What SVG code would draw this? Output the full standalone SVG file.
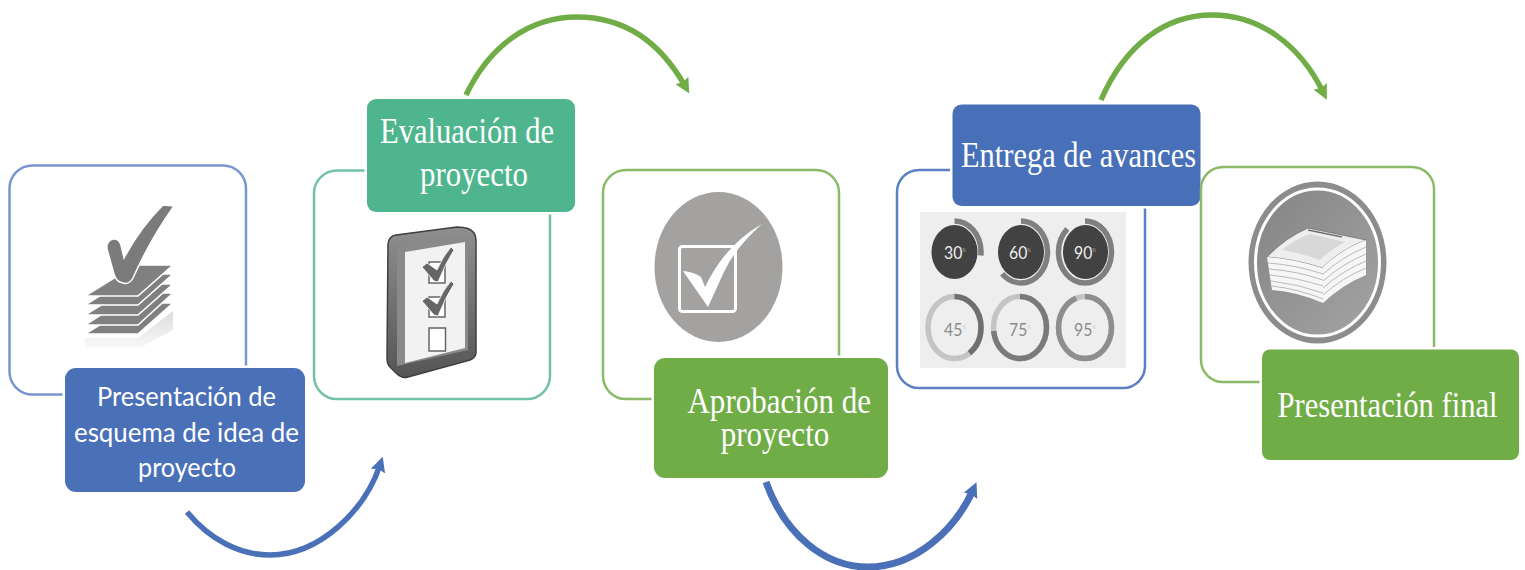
<svg xmlns="http://www.w3.org/2000/svg" width="1525" height="570" viewBox="0 0 1525 570">
<style>
.frame{fill:#fff;stroke-width:2.5}
.label{stroke:#fff;stroke-width:5;paint-order:stroke}
.serif{font-family:"Liberation Serif","Times New Roman",serif;fill:#fff;text-anchor:middle;font-size:36px}
.sans{font-family:Lato,"Open Sans",sans-serif;fill:#fff;text-anchor:middle;font-size:27.5px}
.conn{fill:none;stroke-width:5.5}
.sheet{fill:#808080;stroke:#fff;stroke-width:1.6}
.pct{font-family:Lato,"Open Sans",sans-serif;font-size:17px;text-anchor:middle}
.sup{font-size:5px}
</style>
<defs>
<marker id="headBlue" markerUnits="userSpaceOnUse" viewBox="0 0 14 14" refX="6" refY="7" markerWidth="15" markerHeight="15" orient="auto"><polygon points="0,0 14,7 0,14 2,7" fill="#4A70B8"/></marker>
<marker id="headGreen" markerUnits="userSpaceOnUse" viewBox="0 0 14 14" refX="6" refY="7" markerWidth="15" markerHeight="15" orient="auto"><polygon points="0,0 14,7 0,14 2,7" fill="#70AD47"/></marker>
<linearGradient id="dev" x1="0" y1="0" x2="0" y2="1"><stop offset="0" stop-color="#8f8f8f"/><stop offset="1" stop-color="#555"/></linearGradient>
<linearGradient id="disc" x1="0" y1="0" x2="1" y2="1"><stop offset="0" stop-color="#848484"/><stop offset="1" stop-color="#a4a4a4"/></linearGradient>
<linearGradient id="fade" x1="0" y1="0" x2="0" y2="1"><stop offset="0" stop-color="#dcdcdc"/><stop offset="1" stop-color="#f8f8f8"/></linearGradient>
<path id="ring" d="M0,-31 A26.5,31 0 1 1 0,31 A26.5,31 0 1 1 0,-31" fill="none" stroke-width="5.5" pathLength="100"/>
<path id="tick" d="M422,267 L427,263 L437,270 Q443,256 451,247 L454,250 Q445,264 438,282 L434,281 Z" fill="#666" stroke="#fff" stroke-width="0.8"/>
</defs>

<g id="node1">
<rect class="frame" x="9.500" y="165.500" width="236.500" height="229" rx="23" stroke="#7A96CE"/>
<polygon points="85,338 138,338 173,311 173,330 142,347 85,347" fill="url(#fade)"/>
<polygon class="sheet" points="85,334 138,334 173,303 135,303"/>
<polygon class="sheet" points="85,325 138,325 173,293 135,293"/>
<polygon class="sheet" points="85,315 138,315 173,284 135,284"/>
<polygon class="sheet" points="85,305 138,305 173,274 135,274"/>
<polygon class="sheet" points="85,296 138,296 173,265 135,265"/>
<path d="M163,205 L174,206 Q150,240 133,278 Q129,285 123,283 Q116,282 114,274 L107,249 Q106,241 113,239 Q119,238 121,245 L124,258 Q140,228 163,205 Z" fill="#7b7b7b" stroke="#fff" stroke-width="1.500"/>
<rect class="label" x="65" y="368" width="240" height="124" rx="11" fill="#4A70B8"/>
<text class="sans" x="186.500" y="406" textLength="179" lengthAdjust="spacingAndGlyphs">Presentación de</text>
<text class="sans" x="186.500" y="442" textLength="225" lengthAdjust="spacingAndGlyphs">esquema de idea de</text>
<text class="sans" x="187" y="477" textLength="98" lengthAdjust="spacingAndGlyphs">proyecto</text>
</g>

<g id="node2">
<rect class="frame" x="314" y="170.500" width="236" height="228.500" rx="23" stroke="#72C3A5"/>
<path d="M388,244 Q389,236 396,235 L457,227 Q470,227 474,233 Q476,236 476,242 L476,352 Q476,358 470,360 L408,377 Q402,379 396,373 L390,367 Q387,364 387,358 Z" fill="url(#dev)" stroke="#3f3f3f" stroke-width="1.500"/>
<polygon points="397,248 468,238 468,350 397,366" fill="#8a8a8a"/>
<polygon points="405,252 465,242 465,348 405,363" fill="#f2f2f2"/>
<rect x="429" y="262" width="16" height="21" fill="#fff" stroke="#666" stroke-width="1.500"/>
<rect x="429" y="297" width="16" height="20" fill="#fff" stroke="#666" stroke-width="1.500"/>
<rect x="429" y="328" width="16.500" height="23" fill="#fff" stroke="#666" stroke-width="1.500"/>
<use href="#tick"/>
<use href="#tick" y="34"/>
<rect class="label" x="367" y="99" width="208" height="113" rx="9" fill="#4EB58E"/>
<text class="serif" x="467" y="143" textLength="174" lengthAdjust="spacingAndGlyphs">Evaluación de</text>
<text class="serif" x="474" y="186" textLength="108" lengthAdjust="spacingAndGlyphs">proyecto</text>
</g>

<g id="node3">
<rect class="frame" x="603" y="170" width="236" height="229" rx="23" stroke="#8BBB69"/>
<ellipse cx="718.500" cy="267" rx="64" ry="75" fill="#A3A2A1"/>
<rect x="679.500" y="246.500" width="56" height="65" rx="3" fill="none" stroke="#fff" stroke-width="3"/>
<path d="M683,271 Q694,272 701,277 L705,287 Q725,245 762,224 Q735,248 724,272 L708,307 Z" fill="#fff"/>
<rect class="label" x="654" y="358" width="234" height="120" rx="11" fill="#70AD47"/>
<text class="serif" transform="scale(0.863,1)" y="413"><tspan x="903">Aprobación de</tspan><tspan x="898" y="446">proyecto</tspan></text>
</g>

<g id="node4">
<rect class="frame" x="897" y="170" width="248" height="218" rx="22" stroke="#5B80C4"/>
<rect x="920" y="212" width="206" height="156" fill="#eeeeee"/>
<g id="pct30">
<use href="#ring" x="954.500" y="252" stroke="#7f7f7f" stroke-dasharray="27 73"/>
<ellipse cx="954.500" cy="252" rx="23" ry="27" fill="#424242"/>
<text class="pct" x="955" y="259" fill="#eee" textLength="22" lengthAdjust="spacingAndGlyphs">30<tspan class="sup" dy="-7" fill="#aaa">%</tspan></text>
</g>
<g id="pct60">
<use href="#ring" x="1021" y="252" stroke="#7f7f7f" stroke-dasharray="62 38"/>
<ellipse cx="1021" cy="252" rx="23" ry="27" fill="#424242"/>
<text class="pct" x="1020" y="259" fill="#eee" textLength="22" lengthAdjust="spacingAndGlyphs">60<tspan class="sup" dy="-7" fill="#aaa">%</tspan></text>
</g>
<g id="pct90">
<use href="#ring" x="1085" y="252" stroke="#7f7f7f" stroke-dasharray="89 11"/>
<ellipse cx="1085.500" cy="252" rx="22.500" ry="27" fill="#424242"/>
<text class="pct" x="1085" y="259" fill="#eee" textLength="22" lengthAdjust="spacingAndGlyphs">90<tspan class="sup" dy="-7" fill="#aaa">%</tspan></text>
</g>
<g id="pct45">
<use href="#ring" x="954.500" y="327.500" stroke="#c4c4c4"/>
<use href="#ring" x="954.500" y="327.500" stroke="#6f6f6f" stroke-dasharray="41 59"/>
<text class="pct" x="955" y="336" fill="#8a8a8a" textLength="22" lengthAdjust="spacingAndGlyphs">45<tspan class="sup" dy="-7" fill="#ccc">%</tspan></text>
</g>
<g id="pct75">
<use href="#ring" x="1020" y="327.500" stroke="#c4c4c4"/>
<use href="#ring" x="1020" y="327.500" stroke="#7a7a7a" stroke-dasharray="73 27"/>
<text class="pct" x="1020" y="336" fill="#8a8a8a" textLength="22" lengthAdjust="spacingAndGlyphs">75<tspan class="sup" dy="-7" fill="#ccc">%</tspan></text>
</g>
<g id="pct95">
<use href="#ring" x="1085" y="327.500" stroke="#c4c4c4"/>
<use href="#ring" x="1085" y="327.500" stroke="#8e8e8e" stroke-dasharray="95 5"/>
<text class="pct" x="1085" y="336" fill="#8a8a8a" textLength="22" lengthAdjust="spacingAndGlyphs">95<tspan class="sup" dy="-7" fill="#ccc">%</tspan></text>
</g>
<rect class="label" x="952.500" y="104.500" width="248" height="101.500" rx="9" fill="#4770B8"/>
<text class="serif" x="1078.500" y="167" textLength="235" lengthAdjust="spacingAndGlyphs">Entrega de avances</text>
</g>

<g id="node5">
<rect class="frame" x="1201" y="167" width="233" height="215" rx="22" stroke="#8BBB69"/>
<ellipse cx="1317.500" cy="262.500" rx="69" ry="81" fill="#8c8c8c"/>
<ellipse cx="1317.500" cy="262.500" rx="62" ry="73.500" fill="url(#disc)" stroke="#fff" stroke-width="3"/>
<path d="M1267,257 Q1285,238 1308,228 L1366,240 Q1340,250 1322,268 Q1295,259 1267,257 Z" fill="#eee" stroke="#666" stroke-width="0.700"/>
<path d="M1282,250 Q1295,239 1310,234 L1345,242 Q1330,250 1320,260 Q1300,253 1282,250 Z" fill="#d8d8d8"/>
<path d="M1308,230 L1342,237" stroke="#6f6f6f" stroke-width="1.500" fill="none"/>
<path d="M1267,257 Q1295,259 1322,268 Q1340,250 1366,240 L1366,275 Q1342,285 1323,303 Q1298,292 1272,290 Z" fill="#f6f6f6"/>
<path d="M1268,263 Q1296,265 1323,274 M1269,269 Q1297,271 1323,280 M1270,275 Q1298,278 1323,286 M1271,281 Q1298,284 1323,293 M1272,286 Q1298,289 1323,299 M1323,274 Q1342,257 1366,247 M1323,281 Q1342,264 1366,254 M1323,288 Q1342,271 1366,261 M1323,295 Q1342,278 1366,268" fill="none" stroke="#aaa" stroke-width="0.800"/>
<rect class="label" x="1262" y="349.500" width="257" height="110.500" rx="8" fill="#70AD47"/>
<text class="serif" transform="scale(0.85,1)" x="1632.400" y="417">Presentación final</text>
</g>

<g id="connectors">
<path class="conn" stroke="#4A70B8" marker-end="url(#headBlue)" d="M187,512 C210,540 240,555 270,555 C320,555 365,510 380,465"/>
<path class="conn" stroke="#70AD47" marker-end="url(#headGreen)" d="M466,95 C490,45 530,17 577,17 C625,17 660,42 685,86"/>
<path class="conn" stroke="#4A70B8" style="stroke-width:7" marker-end="url(#headBlue)" d="M766,482 C785,535 825,567 868,567 C915,567 955,530 973,490"/>
<path class="conn" stroke="#70AD47" marker-end="url(#headGreen)" d="M1101,100 C1125,45 1165,15 1212,15 C1260,15 1300,45 1323,92"/>
</g>
</svg>
